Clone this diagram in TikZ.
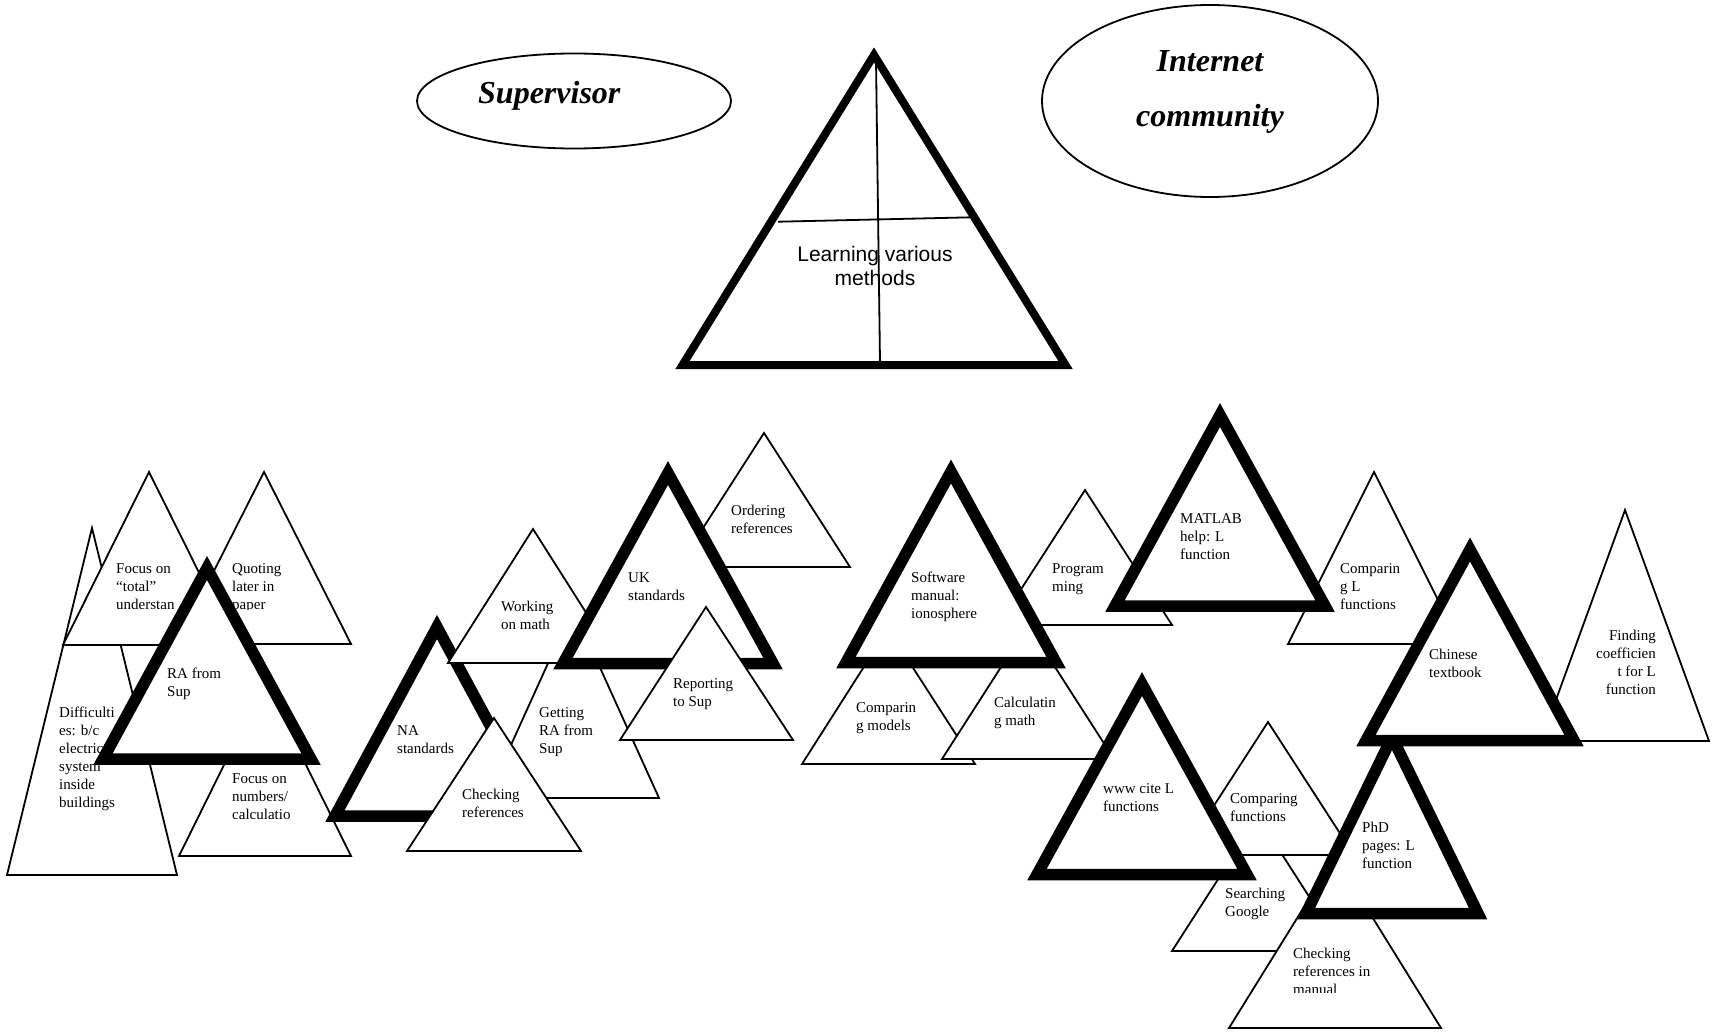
\documentclass[tikz,border=0pt]{standalone}
\usepackage{fontspec}
\setmainfont{Liberation Serif}
\newfontfamily\arialfont{Liberation Sans}
\usepackage{tikz}

\begin{document}
\begin{tikzpicture}[x=1pt, y=-1pt,
    thin tri/.style={draw, fill=white, line width=1.8pt},
    thick tri/.style={draw, fill=white, line width=11.5pt},
    lbl/.style={font=\fontsize{15}{18}\selectfont, align=left, anchor=north west, inner sep=0pt},
    who/.style={font=\fontsize{32}{55.7}\selectfont\bfseries\itshape, align=center, inner sep=0pt}]
    \useasboundingbox (0,0) rectangle (1713,1033);

    % Supervisor and Internet community
    \draw[line width=1.8pt] (574,101) ellipse [x radius=157pt, y radius=47.5pt];
    \node[who, anchor=base west] (sup) at (478,103.3) {Supervisor};
    \draw[line width=1.8pt] (1210,101) ellipse [x radius=168pt, y radius=96pt];
    \node[who, anchor=north] (net) at (1210,50) {Internet\\community};

    % Learning various methods
    \filldraw[thin tri, line width=8pt] (874,55) -- (1065.5,365) -- (682.5,365) -- cycle;
    \draw[line width=1.8pt] (778,221.7) -- (971.7,217.3);
    \draw[line width=1.8pt] (876,60) -- (880,362);
    \node[font=\arialfont\fontsize{21}{23.5}\selectfont, align=center, anchor=north, inner sep=0pt]
        (learn) at (875,246.5) {Learning various\\methods};

    % left group
    \filldraw[thin tri] (92,528) -- (177,875) -- (7,875) -- cycle;
    \node[lbl] (difficult) at (59,707) {Difficulti\\es: b/c\\electric\\system\\inside\\buildings};
    \filldraw[thin tri] (149,472) -- (235,645) -- (63,645) -- cycle;
    \node[lbl] (focustotal) at (116,563) {Focus on\\“total”\\understan};
    \filldraw[thin tri] (264,472) -- (351,644) -- (177,644) -- cycle;
    \begin{scope}
        \clip (225,550) rectangle (330,609);
        \node[lbl] (quoting) at (232,563) {Quoting\\later in\\paper};
    \end{scope}
    \filldraw[thin tri] (265,682) -- (351,856) -- (179,856) -- cycle;
    \begin{scope}
        \clip (225,760) rectangle (330,818);
        \node[lbl] (focusnum) at (232,773) {Focus on\\numbers/\\calculatio};
    \end{scope}
    \filldraw[thick tri] (207,568) -- (311,759) -- (103,759) -- cycle;
    \node[lbl] (rasup) at (167,668) {RA from\\Sup};

    % standards group
    \filldraw[thick tri] (437,627) -- (539,816) -- (335,816) -- cycle;
    \node[lbl] (na) at (397,725) {NA\\standards};
    \filldraw[thin tri] (573,608) -- (659,798) -- (487,798) -- cycle;
    \node[lbl] (getting) at (539,707) {Getting\\RA from\\Sup};
    \filldraw[thin tri] (533,529) -- (618,663) -- (448,663) -- cycle;
    \node[lbl] (working) at (501,601) {Working\\on math};
    \filldraw[thin tri] (494,718) -- (581,851) -- (407,851) -- cycle;
    \node[lbl] (checking) at (462,789) {Checking\\references};
    \filldraw[thin tri] (764,433) -- (850,567) -- (678,567) -- cycle;
    \node[lbl] (ordering) at (731,505) {Ordering\\references};
    \filldraw[thick tri] (668,473) -- (773,663.5) -- (563,663.5) -- cycle;
    \node[lbl] (uk) at (628,572) {UK\\standards};
    \filldraw[thin tri] (706,607) -- (793,740) -- (620,740) -- cycle;
    \node[lbl] (reporting) at (673,678) {Reporting\\to Sup};

    % software group
    \filldraw[thin tri] (1085,490) -- (1172,625) -- (998,625) -- cycle;
    \node[lbl] (programming) at (1052,563) {Program\\ming};
    \filldraw[thin tri] (888,629) -- (975,764) -- (802,764) -- cycle;
    \node[lbl] (compmodels) at (856,702) {Comparin\\g models};
    \filldraw[thin tri] (1028,625) -- (1114,759) -- (942,759) -- cycle;
    \node[lbl] (calc) at (994,697) {Calculatin\\g math};
    \filldraw[thick tri] (951,471.5) -- (1056,662.5) -- (846,662.5) -- cycle;
    \node[lbl] (software) at (911,572) {Software\\manual:\\ionosphere};

    % L function group
    \filldraw[thin tri] (1374,472) -- (1460,644) -- (1288,644) -- cycle;
    \node[lbl] (compl) at (1340,563) {Comparin\\g L\\functions};
    \filldraw[thick tri] (1220,415) -- (1325,606) -- (1115,606) -- cycle;
    \node[lbl] (matlab) at (1180,513) {MATLAB\\help: L\\function};
    \filldraw[thin tri] (1625,510) -- (1709,741) -- (1541,741) -- cycle;
    \node[lbl, align=right, anchor=north east] (finding) at (1656,630) {Finding\\coefficien\\t for L\\function};
    \filldraw[thin tri] (1258,817) -- (1344,951) -- (1172,951) -- cycle;
    \node[lbl] (searching) at (1225,888) {Searching\\Google};
    \filldraw[thin tri] (1268,722) -- (1354,855) -- (1182,855) -- cycle;
    \node[lbl] (compfunc) at (1230,793) {Comparing\\functions};
    \filldraw[thick tri] (1142,684) -- (1247,874.5) -- (1037,874.5) -- cycle;
    \node[lbl] (www) at (1103,783) {www cite L\\functions};
    \filldraw[thin tri] (1335,857) -- (1441,1028) -- (1229,1028) -- cycle;
    \begin{scope}
        \clip (1285,935) rectangle (1420,992);
        \node[lbl] (checkman) at (1293,948) {Checking\\references in\\manual};
    \end{scope}
    \filldraw[thick tri] (1392,737) -- (1478,913.5) -- (1306,913.5) -- cycle;
    \node[lbl] (phd) at (1362,822) {PhD\\pages: L\\function};
    \filldraw[thick tri] (1470,549.5) -- (1574,740.5) -- (1366,740.5) -- cycle;
    \node[lbl] (chinese) at (1429,649) {Chinese\\textbook};
\end{tikzpicture}
\end{document}
